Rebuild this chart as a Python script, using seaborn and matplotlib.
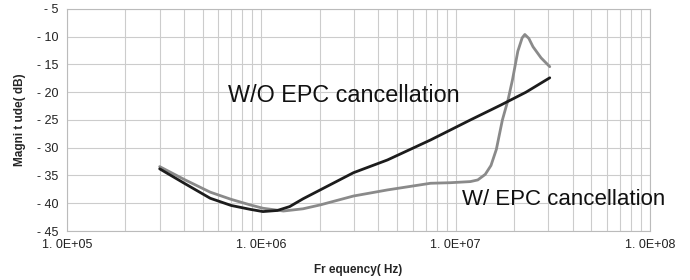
import numpy as np
import pandas as pd
import matplotlib
matplotlib.use("Agg")
import matplotlib.pyplot as plt
import seaborn as sns

# frequency points (Hz) and magnitude (dB)
freq_wo = [3.0e5, 4.06e5, 5.46e5, 7.0e5, 8.77e5, 1.02e6, 1.21e6, 1.4e6, 1.64e6, 2.01e6,
           2.98e6, 4.46e6, 7.43e6, 1.19e7, 1.71e7, 2.3e7, 3.05e7]
mag_wo = [-33.8, -36.5, -39.1, -40.4, -41.1, -41.5, -41.3, -40.6, -39.2, -37.6,
          -34.5, -32.2, -28.6, -25.0, -22.3, -20.0, -17.4]

freq_w = [3.0e5, 4.06e5, 5.46e5, 7.0e5, 8.77e5, 1.02e6, 1.3e6, 1.64e6, 2.01e6, 2.98e6,
          4.46e6, 7.43e6, 9.4e6, 1.19e7, 1.3e7, 1.42e7, 1.52e7, 1.62e7, 1.74e7, 1.86e7,
          1.96e7, 2.09e7, 2.2e7, 2.27e7, 2.38e7, 2.5e7, 2.75e7, 3.05e7]
mag_w = [-33.4, -35.8, -38.0, -39.3, -40.3, -40.9, -41.4, -41.0, -40.3, -38.7,
         -37.6, -36.4, -36.3, -36.1, -35.8, -34.8, -33.2, -30.3, -25.0, -21.4,
         -17.8, -12.6, -10.2, -9.6, -10.3, -11.8, -13.8, -15.4]

yticks = [-5, -10, -15, -20, -25, -30, -35, -40, -45]
xticks = [1e5, 1e6, 1e7, 1e8]
xtick_labels = ["1. 0E+05", "1. 0E+06", "1. 0E+07", "1. 0E+08"]

df = pd.concat([
    pd.DataFrame({"freq": freq_wo, "mag": mag_wo, "case": "W/O EPC cancellation"}),
    pd.DataFrame({"freq": freq_w, "mag": mag_w, "case": "W/ EPC cancellation"}),
])

sns.set_theme(style="white")
plt.rcParams["font.family"] = ["Liberation Sans", "DejaVu Sans"]

fig = plt.figure(figsize=(6.9, 2.8), dpi=100)
ax = fig.add_axes([0.097, 0.175, 0.845, 0.793])

sns.lineplot(data=df, x="freq", y="mag", hue="case", sort=False,
             palette={"W/O EPC cancellation": "#1c1c1c", "W/ EPC cancellation": "#8a8a8a"},
             hue_order=["W/ EPC cancellation", "W/O EPC cancellation"],
             linewidth=2, legend=False, ax=ax)

ax.set_xscale("log")
ax.set_xlim(1e5, 1e8)
ax.set_ylim(-45, -5)

ax.set_xticks(xticks)
ax.set_xticklabels(xtick_labels, fontsize=9, color="#222222")
ax.set_xticks([m * d for d in [1e5, 1e6, 1e7] for m in range(2, 10)], minor=True)
ax.set_xticklabels([], minor=True)
ax.set_yticks(yticks)
ax.set_yticklabels(["- " + str(abs(v)) for v in yticks], fontsize=9, color="#222222")
ax.tick_params(axis="both", which="both", length=0, pad=6)

ax.grid(True, which="both", color="#cccccc", linewidth=0.8)
for s in ax.spines.values():
    s.set_color("#bbbbbb")
    s.set_linewidth(0.8)

ax.set_xlabel("Fr equency( Hz)", fontsize=8.5, fontweight="bold", labelpad=9)
ax.set_ylabel("Magni t ude( dB)", fontsize=8.5, fontweight="bold", labelpad=8)

ax.text(2.65e6, -20.5, "W/O EPC cancellation", fontsize=16.8, ha="center", va="center", color="#111111")
ax.text(3.58e7, -39.4, "W/ EPC cancellation", fontsize=16, ha="center", va="center", color="#111111")

fig.savefig("out.png", dpi=100)
